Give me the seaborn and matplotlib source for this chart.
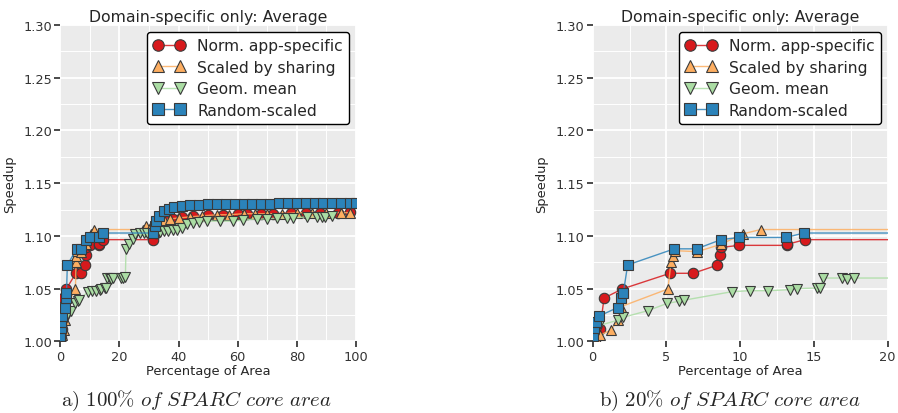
import matplotlib
matplotlib.use("Agg")
import matplotlib.pyplot as plt
import seaborn as sns
import pandas as pd
from matplotlib.ticker import MultipleLocator

# ---------------- data ----------------
series_names = ["Norm. app-specific", "Scaled by sharing", "Geom. mean", "Random-scaled"]

norm_x = [0.1, 0.3, 0.5, 0.77, 2.0, 5.24, 6.82, 8.4, 8.63, 8.68, 9.92, 13.15, 13.2, 14.39,
          31.5, 32.5, 34, 36, 38, 41, 45, 50, 55, 60, 63, 68, 72, 78, 83, 88, 94, 98]
norm_y = [1.003, 1.008, 1.012, 1.041, 1.0496, 1.0645, 1.0645, 1.072, 1.082, 1.089, 1.091, 1.091, 1.092, 1.0964,
          1.0964, 1.103, 1.110, 1.114, 1.116, 1.118, 1.119, 1.120, 1.120, 1.121, 1.121, 1.121, 1.121, 1.122, 1.122,
          1.122, 1.122, 1.123]

shared_x = [0.05, 0.2, 0.5, 1.26, 1.69, 1.95, 5.1, 5.31, 5.45, 5.55, 7.09, 8.7, 10.21, 11.39,
            28.0, 29.0, 31, 33, 35, 37, 40, 44, 48, 53, 57, 62, 66, 70, 75, 80, 85, 90, 95, 98]
shared_y = [1.000, 1.003, 1.006, 1.0107, 1.0205, 1.033, 1.0496, 1.075, 1.081, 1.086, 1.085, 1.092, 1.102, 1.106,
            1.106, 1.109, 1.111, 1.113, 1.115, 1.116, 1.117, 1.118, 1.119, 1.120, 1.120, 1.121, 1.121, 1.121,
            1.121, 1.122, 1.122, 1.122, 1.122, 1.122]

geom_x = [0.1, 0.3, 0.45, 1.7, 2.08, 3.73, 5.06, 5.87, 6.2, 9.42, 10.66, 11.9, 13.38, 13.85, 15.19, 15.4,
          15.64, 16.88, 17.27, 17.72, 20.6, 21.3, 22.0, 22.2, 23.3, 24.5, 25.3, 27.0, 28.2, 29.3, 33.7, 35,
          36.5, 38, 39.5, 41.1, 42.7, 45, 47, 49.5, 54, 58.5, 61.9, 66.4, 69.8, 73.2, 76.6, 78.8, 83.3, 86.7,
          88.5, 89.5, 91.8]
geom_y = [1.003, 1.010, 1.015, 1.020, 1.0228, 1.029, 1.036, 1.038, 1.039, 1.047, 1.048, 1.048, 1.049, 1.050,
          1.0505, 1.051, 1.060, 1.060, 1.059, 1.060, 1.060, 1.060, 1.061, 1.0876, 1.092, 1.0968, 1.1015, 1.1025,
          1.1025, 1.103, 1.104, 1.105, 1.105, 1.106, 1.106, 1.107, 1.111, 1.112, 1.113, 1.114, 1.114, 1.114,
          1.115, 1.116, 1.116, 1.117, 1.117, 1.117, 1.118, 1.118, 1.118, 1.118, 1.119]

rand_x = [0.05, 0.1, 0.2, 0.43, 1.69, 1.9, 2.08, 2.37, 5.53, 7.05, 8.7, 9.92, 13.1, 14.33,
          31.5, 31.9, 32.4, 33.5, 35.2, 36.8, 38.5, 41.3, 44, 47, 50, 53, 56, 59, 62, 65, 68, 71, 74, 77,
          80, 83, 86, 89, 92, 95, 98, 100]
rand_y = [1.005, 1.013, 1.018, 1.0239, 1.032, 1.041, 1.046, 1.0724, 1.0877, 1.0877, 1.0964, 1.0985, 1.0985,
          1.1027, 1.1027, 1.109, 1.1145, 1.119, 1.124, 1.1255, 1.127, 1.1287, 1.129, 1.1295, 1.1298, 1.130,
          1.130, 1.130, 1.1305, 1.1305, 1.1305, 1.1305, 1.131, 1.131, 1.131, 1.131, 1.131, 1.131, 1.131,
          1.131, 1.131, 1.131]

all_x = [norm_x, shared_x, geom_x, rand_x]
all_y = [norm_y, shared_y, geom_y, rand_y]

frames = []
for name, xs, ys in zip(series_names, all_x, all_y):
    frames.append(pd.DataFrame({"area": xs, "speedup": ys, "series": name}))
df = pd.concat(frames, ignore_index=True)

colors = ["#d7191c", "#fdae61", "#abdda4", "#2b83ba"]
markers = ["o", "^", "v", "s"]

title = "Domain-specific only: Average"
captions = [r"$\mathrm{a)}\ \mathit{100\%\ of\ SPARC\ core\ area}$",
            r"$\mathrm{b)}\ \mathit{20\%\ of\ SPARC\ core\ area}$"]

# ---------------- style ----------------
sns.set_theme(style="darkgrid", rc={
    "axes.facecolor": "#EBEBEB",
    "grid.color": "white",
    "xtick.bottom": True,
    "ytick.left": True,
    "xtick.major.size": 4,
    "ytick.major.size": 4,
    "xtick.color": "#333333",
    "ytick.color": "#333333",
    "axes.spines.left": False,
    "axes.spines.bottom": False,
    "axes.spines.top": False,
    "axes.spines.right": False,
})
plt.rcParams["font.family"] = ["DejaVu Sans"]
plt.rcParams["mathtext.fontset"] = "cm"

fig = plt.figure(figsize=(8.98, 4.14), dpi=100)
ax1 = fig.add_axes([0.0672, 0.1732, 0.3292, 0.764])
ax2 = fig.add_axes([0.660, 0.1732, 0.3285, 0.764])

for ax, xmax, major, minor in [(ax1, 100, 20, 10), (ax2, 20, 5, 2.5)]:
    for name, c, m in zip(series_names, colors, markers):
        sub = df[df["series"] == name]
        rgba = matplotlib.colors.to_rgba(c, 0.85)
        sns.lineplot(data=sub, x="area", y="speedup", ax=ax, estimator=None, sort=False,
                     color=rgba, lw=1.0, marker=m, markersize=7.5, markerfacecolor=c,
                     markeredgecolor="#3a3a3a", markeredgewidth=0.8, label=name, legend=False)
    ax.set_xlim(0, xmax)
    ax.set_ylim(1.0, 1.3)
    ax.xaxis.set_major_locator(MultipleLocator(major))
    ax.xaxis.set_minor_locator(MultipleLocator(minor))
    ax.yaxis.set_major_locator(MultipleLocator(0.05))
    ax.yaxis.set_minor_locator(MultipleLocator(0.025))
    ax.grid(which="major", color="white", lw=1.3)
    ax.grid(which="minor", color="white", lw=0.7)
    ax.tick_params(which="minor", length=0)
    ax.tick_params(which="major", labelsize=9.3, pad=2)
    ax.set_title(title, fontsize=11.3, pad=3)
    ax.set_xlabel("Percentage of Area", fontsize=9.4, labelpad=1)
    ax.set_ylabel("Speedup", fontsize=9.4, labelpad=5)
    ax.set_yticks([1.0, 1.05, 1.1, 1.15, 1.2, 1.25, 1.3])
    ax.set_yticklabels(["1.00", "1.05", "1.10", "1.15", "1.20", "1.25", "1.30"])
    handles, labels = ax.get_legend_handles_labels()
    leg = ax.legend(handles, labels, loc="upper right", numpoints=2, fontsize=11.2,
                    handlelength=2.0, handletextpad=0.8, borderaxespad=0.45, labelspacing=0.42,
                    frameon=True, fancybox=True, facecolor="white", edgecolor="black",
                    framealpha=1.0, markerscale=1.1, borderpad=0.4)
    leg.get_frame().set_linewidth(1.0)

fig.text(0.219, 0.031, captions[0], fontsize=15, ha="center", va="center")
fig.text(0.813, 0.031, captions[1], fontsize=15, ha="center", va="center")

fig.savefig("out.png", dpi=100)
